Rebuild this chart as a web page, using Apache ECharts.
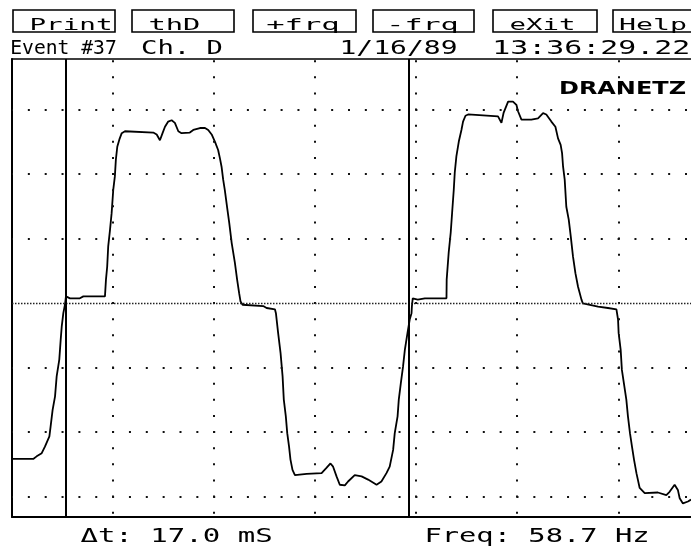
<!DOCTYPE html>
<html>
<head>
<meta charset="utf-8">
<title>Event #37 Ch. D</title>
<script src="https://cdn.jsdelivr.net/npm/echarts@6/dist/echarts.min.js"></script>
<style>
  html, body { margin: 0; padding: 0; background: #fff; }
  #chart { width: 691px; height: 552px; }
</style>
</head>
<body>
<div id="chart"></div>
<script>
// Captured waveform: time in ms (5 ms per division), amplitude in vertical divisions.
const timeMs = [
  0.00, 1.05, 1.22, 1.47, 1.63, 1.85, 1.91, 2.01, 2.13, 2.21, 2.34, 2.41, 2.46, 2.54, 2.62,
  2.67, 2.87, 3.36, 3.53, 4.60,
  4.65, 4.71, 4.76, 4.85, 4.93, 5.01, 5.09, 5.14, 5.21, 5.31, 5.43, 5.59,
  6.99, 7.16, 7.32, 7.45, 7.57, 7.73, 7.90, 8.06, 8.23, 8.39, 8.80, 8.97, 9.30, 9.55, 9.71,
  9.88, 10.04, 10.20, 10.29, 10.37, 10.45, 10.53, 10.65, 10.75, 10.87, 11.03, 11.14, 11.24, 11.31, 11.41,
  12.43, 12.60, 13.01,
  13.06, 13.17, 13.29, 13.39, 13.45, 13.55, 13.62, 13.71, 13.78, 13.88, 14.00,
  14.58, 15.32, 15.56, 15.76, 15.89, 16.06, 16.22, 16.47, 16.63, 16.96, 17.30, 17.62, 18.04, 18.28,
  18.53, 18.69, 18.86, 18.94, 19.08, 19.14, 19.24, 19.35, 19.44, 19.57, 19.68, 19.77, 19.79,
  19.83, 20.08, 20.43, 21.50,
  21.51, 21.61, 21.71, 21.78, 21.86, 21.91, 21.99, 22.11, 22.24, 22.32, 22.44, 22.57,
  24.05, 24.22, 24.33, 24.55, 24.79, 24.96, 25.04, 25.21, 25.70, 26.03, 26.28, 26.44, 26.69, 26.89,
  27.02, 27.15, 27.22, 27.27, 27.35, 27.43, 27.55, 27.65, 27.76, 27.88, 28.01, 28.18, 28.25, 28.34,
  29.00, 29.49, 29.91,
  29.99, 30.02, 30.12, 30.18, 30.28, 30.40, 30.48, 30.58, 30.68, 30.78, 30.90, 31.06,
  31.31, 31.96, 32.38, 32.54, 32.79, 32.95, 33.04, 33.20, 33.45, 33.60
];
const amplitudeDiv = [
  -2.42, -2.42, -2.38, -2.33, -2.23, -2.07, -1.92, -1.66, -1.45, -1.14, -0.88, -0.57, -0.37, -0.16, -0.03,
  0.10, 0.07, 0.07, 0.10, 0.10,
  0.36, 0.56, 0.87, 1.13, 1.39, 1.75, 1.96, 2.22, 2.42, 2.53, 2.63, 2.66,
  2.64, 2.61, 2.52, 2.63, 2.73, 2.81, 2.83, 2.79, 2.66, 2.63, 2.64, 2.68, 2.71, 2.71, 2.68,
  2.61, 2.50, 2.37, 2.24, 2.11, 1.91, 1.75, 1.47, 1.24, 0.93, 0.62, 0.36, 0.15, 0.02, -0.03,
  -0.05, -0.08, -0.10,
  -0.16, -0.47, -0.78, -1.14, -1.50, -1.76, -2.02, -2.23, -2.43, -2.59, -2.67,
  -2.65, -2.64, -2.56, -2.49, -2.54, -2.69, -2.82, -2.83, -2.77, -2.67, -2.69, -2.74, -2.82, -2.77,
  -2.64, -2.54, -2.28, -2.02, -1.76, -1.50, -1.25, -0.99, -0.73, -0.47, -0.26, -0.16, -0.05,
  0.07, 0.05, 0.07, 0.07,
  0.36, 0.78, 1.09, 1.40, 1.75, 2.02, 2.27, 2.50, 2.68, 2.81, 2.90, 2.92,
  2.89, 2.79, 2.95, 3.12, 3.12, 3.07, 2.97, 2.84, 2.84, 2.86, 2.94, 2.92, 2.81, 2.73,
  2.55, 2.45, 2.32, 2.11, 1.91, 1.49, 1.29, 1.03, 0.72, 0.46, 0.25, 0.05, -0.01, -0.03,
  -0.06, -0.08, -0.10,
  -0.26, -0.47, -0.73, -1.04, -1.25, -1.50, -1.76, -2.02, -2.23, -2.43, -2.64, -2.87,
  -2.95, -2.94, -2.98, -2.93, -2.82, -2.90, -3.03, -3.11, -3.08, -3.05
];

// Screen window: 5 ms/div horizontally, divisions vertically
const timeWindow = [0, 33.6];
const ampWindow = [-3.32, 3.78];
const gridColumnsMs = [5, 10, 15, 20, 25, 30];
const gridRowsDiv = [-3, -2, -1, 1, 2, 3];
const cursorStartMs = 2.65;
const deltaTMs = 17.0;
const freqHz = 58.7;

const menuLabels = ['Print', 'thD', '+frq', '-frq', 'eXit', 'Help'];
const headerParts = ['Event #37', 'Ch. D', '1/16/89', '13:36:29.22'];

const chart = echarts.init(document.getElementById('chart'), null, { renderer: 'canvas' });

// Text stretched horizontally to the printer's wide character pitch
const measureCtx = document.createElement('canvas').getContext('2d');
const MONO = '"DejaVu Sans Mono", monospace';
function wideText(text, left, centerY, size, advance, opts) {
  opts = opts || {};
  const family = opts.family || MONO;
  const weight = opts.weight || 'normal';
  measureCtx.font = weight + ' ' + size + 'px ' + family;
  const w = measureCtx.measureText(text).width;
  return {
    type: 'text',
    x: left,
    y: centerY,
    scaleX: advance / w,
    scaleY: 1,
    silent: true,
    style: {
      text: text,
      fontSize: size,
      fontFamily: family,
      fontWeight: weight,
      fill: '#000',
      textAlign: 'left', align: 'left',
      textVerticalAlign: 'middle', verticalAlign: 'middle'
    }
  };
}

const graphics = [];
// Soft-key boxes
const boxSpans = [[13, 115], [132, 234], [253, 356], [373, 474], [493, 597], [613, 710]];
boxSpans.forEach(function (s) {
  graphics.push({
    type: 'rect', silent: true,
    shape: { x: s[0], y: 10, width: s[1] - s[0], height: 22 },
    style: { fill: 'none', stroke: '#000', lineWidth: 1.6 }
  });
});
const menuText = [[29.5, 83], [148.4, 52], [266.2, 73.5], [386.3, 72.4], [509.5, 66], [619, 68]];
menuLabels.forEach(function (t, i) {
  graphics.push(wideText(t, menuText[i][0], 25.5, 16.5, menuText[i][1]));
});
const headerText = [[10.2, 106.6], [141, 82], [339.5, 118], [492.3, 198]];
headerParts.forEach(function (t, i) {
  graphics.push(wideText(t, headerText[i][0], 49.3, 19.5, headerText[i][1]));
});
graphics.push(wideText('DRANETZ', 559, 89.5, 17.5, 127,
  { family: '"DejaVu Sans", sans-serif', weight: 'bold' }));
graphics.push(wideText('\u0394t: ' + deltaTMs.toFixed(1) + ' mS', 80.4, 536.3, 20, 192.3));
graphics.push(wideText('Freq: ' + freqHz.toFixed(1) + ' Hz', 424.4, 536.3, 20, 225.2));

const dotRow = { color: '#111', width: 2, type: [2, 14.85], dashOffset: 1 };
const dotCol = { color: '#111', width: 2, type: [2, 14.125], dashOffset: 12.75 };
const markData = [];
gridRowsDiv.forEach(function (v) { markData.push({ yAxis: v, lineStyle: dotRow }); });
gridColumnsMs.forEach(function (v) { markData.push({ xAxis: v, lineStyle: dotCol }); });
markData.push({ yAxis: 0, lineStyle: { color: '#222', width: 1.4, type: [1.5, 1.5] } });
markData.push({ xAxis: cursorStartMs, lineStyle: { color: '#000', width: 2, type: 'solid' } });
markData.push({ xAxis: cursorStartMs + deltaTMs, lineStyle: { color: '#000', width: 2, type: 'solid' } });

const option = {
  backgroundColor: '#fff',
  animation: false,
  grid: { left: 12, top: 59, right: 0, bottom: 35, containLabel: false },
  xAxis: [{
    type: 'value', min: timeWindow[0], max: timeWindow[1],
    axisLine: { show: true, onZero: false, lineStyle: { color: '#000', width: 2 } },
    axisTick: { show: false }, axisLabel: { show: false }, splitLine: { show: false }
  }, {
    type: 'value', position: 'top', min: timeWindow[0], max: timeWindow[1],
    axisLine: { show: true, onZero: false, lineStyle: { color: '#000', width: 1.6 } },
    axisTick: { show: false }, axisLabel: { show: false }, splitLine: { show: false }
  }],
  yAxis: {
    type: 'value', min: ampWindow[0], max: ampWindow[1],
    axisLine: { show: true, onZero: false, lineStyle: { color: '#000', width: 2 } },
    axisTick: { show: false }, axisLabel: { show: false }, splitLine: { show: false }
  },
  series: [{
    type: 'line',
    xAxisIndex: 0,
    data: timeMs.map(function (t, i) { return [t, amplitudeDiv[i]]; }),
    showSymbol: false,
    symbol: 'none',
    lineStyle: { color: '#000', width: 1.8 },
    silent: true,
    markLine: {
      silent: true,
      symbol: ['none', 'none'],
      label: { show: false },
      emphasis: { disabled: true },
      data: markData
    }
  }],
  graphic: graphics
};
chart.setOption(option);
</script>
</body>
</html>
